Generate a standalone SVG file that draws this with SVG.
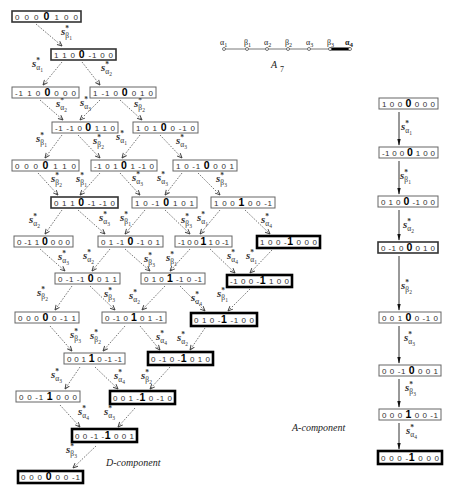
<svg xmlns="http://www.w3.org/2000/svg" width="454" height="492" viewBox="0 0 454 492">
<defs>
<style>
.n rect{fill:#fff;stroke:#666;stroke-width:1}
.m rect{fill:#fff;stroke:#333;stroke-width:1.6}
.b rect{fill:#fff;stroke:#000;stroke-width:2.6}
.t{font-family:"Liberation Sans",Arial,sans-serif;font-size:8px;fill:#333}
.k{font-weight:bold;font-size:10.5px;fill:#000}
.L{font-family:"Liberation Serif","Times New Roman",serif;font-style:italic;font-weight:bold;font-size:11px;fill:#333}
.u{font-size:7.5px;font-style:normal}
.d{font-size:7.5px;font-style:normal;font-weight:normal}
.e{font-size:5.5px;font-style:normal;font-weight:normal}
.dash{stroke:#666;stroke-width:0.9;stroke-dasharray:1.6 1.4;fill:none;marker-end:url(#ah)}
.sol{stroke:#333;stroke-width:1;fill:none;marker-end:url(#af)}
.cap{font-family:"Liberation Serif","Times New Roman",serif;font-style:italic;font-size:10px;fill:#222}
.g{font-family:"Liberation Serif","Times New Roman",serif;font-size:8px;fill:#222}
</style>
<marker id="ah" viewBox="0 0 10 10" refX="9" refY="5" markerWidth="6" markerHeight="6" orient="auto" markerUnits="userSpaceOnUse"><path d="M1,1.5 L9,5 L1,8.5" fill="none" stroke="#444" stroke-width="1.6"/></marker>
<marker id="af" viewBox="0 0 10 10" refX="9" refY="5" markerWidth="7" markerHeight="7" orient="auto" markerUnits="userSpaceOnUse"><path d="M0,2.5 L10,5 L0,7.5 z" fill="#111"/></marker>
</defs>
<rect width="454" height="492" fill="#fff"/>

<g id="connectors">
<line class="dash" x1="36" y1="24" x2="62" y2="46"/>
<line class="dash" x1="62" y1="62" x2="43" y2="85"/>
<line class="dash" x1="82" y1="62" x2="100" y2="85"/>
<line class="dash" x1="40" y1="100" x2="63" y2="120"/>
<line class="dash" x1="100" y1="100" x2="80" y2="120"/>
<line class="dash" x1="120" y1="100" x2="142" y2="120"/>
<line class="dash" x1="62" y1="135" x2="45" y2="158"/>
<line class="dash" x1="78" y1="135" x2="100" y2="158"/>
<line class="dash" x1="140" y1="135" x2="122" y2="158"/>
<line class="dash" x1="160" y1="135" x2="182" y2="158"/>
<line class="dash" x1="38" y1="173" x2="58" y2="195"/>
<line class="dash" x1="100" y1="173" x2="80" y2="195"/>
<line class="dash" x1="120" y1="173" x2="140" y2="195"/>
<line class="dash" x1="182" y1="173" x2="165" y2="195"/>
<line class="dash" x1="198" y1="173" x2="220" y2="195"/>
<line class="dash" x1="62" y1="210" x2="45" y2="234"/>
<line class="dash" x1="78" y1="210" x2="105" y2="234"/>
<line class="dash" x1="145" y1="210" x2="125" y2="234"/>
<line class="dash" x1="165" y1="210" x2="190" y2="234"/>
<line class="dash" x1="220" y1="210" x2="200" y2="234"/>
<line class="dash" x1="245" y1="210" x2="270" y2="234"/>
<line class="dash" x1="40" y1="249" x2="65" y2="271"/>
<line class="dash" x1="110" y1="249" x2="92" y2="271"/>
<line class="dash" x1="125" y1="249" x2="150" y2="271"/>
<line class="dash" x1="190" y1="249" x2="170" y2="271"/>
<line class="dash" x1="210" y1="249" x2="235" y2="273"/>
<line class="dash" x1="272" y1="250" x2="250" y2="273"/>
<line class="dash" x1="72" y1="286" x2="55" y2="310"/>
<line class="dash" x1="90" y1="286" x2="115" y2="310"/>
<line class="dash" x1="165" y1="286" x2="142" y2="310"/>
<line class="dash" x1="180" y1="286" x2="205" y2="311"/>
<line class="dash" x1="250" y1="289" x2="228" y2="311"/>
<line class="dash" x1="50" y1="326" x2="72" y2="351"/>
<line class="dash" x1="125" y1="326" x2="103" y2="351"/>
<line class="dash" x1="140" y1="326" x2="160" y2="350"/>
<line class="dash" x1="205" y1="328" x2="190" y2="350"/>
<line class="dash" x1="80" y1="367" x2="65" y2="389"/>
<line class="dash" x1="95" y1="367" x2="118" y2="389"/>
<line class="dash" x1="170" y1="367" x2="150" y2="389"/>
<line class="dash" x1="60" y1="405" x2="80" y2="427"/>
<line class="dash" x1="135" y1="408" x2="118" y2="427"/>
<line class="dash" x1="96" y1="446" x2="73" y2="468"/>
<line class="sol" x1="399" y1="112" x2="399" y2="145"/>
<line class="sol" x1="399" y1="161" x2="399" y2="194"/>
<line class="sol" x1="399" y1="210" x2="399" y2="240"/>
<line class="sol" x1="399" y1="256" x2="399" y2="310"/>
<line class="sol" x1="399" y1="326" x2="399" y2="363"/>
<line class="sol" x1="399" y1="379" x2="399" y2="407"/>
<line class="sol" x1="399" y1="423" x2="399" y2="449"/>
</g>

<g id="labels">
<text class="L" x="61" y="35">s<tspan class="u" dy="-4">*</tspan><tspan class="d" dx="-3.7" dy="7">β</tspan><tspan class="e" dy="1.5">1</tspan></text>
<text class="L" x="32" y="67">s<tspan class="u" dy="-4">*</tspan><tspan class="d" dx="-3.7" dy="7">α</tspan><tspan class="e" dy="1.5">1</tspan></text>
<text class="L" x="101" y="71">s<tspan class="u" dy="-4">*</tspan><tspan class="d" dx="-3.7" dy="7">α</tspan><tspan class="e" dy="1.5">2</tspan></text>
<text class="L" x="56" y="107">s<tspan class="u" dy="-4">*</tspan><tspan class="d" dx="-3.7" dy="7">α</tspan><tspan class="e" dy="1.5">2</tspan></text>
<text class="L" x="80" y="106">s<tspan class="u" dy="-4">*</tspan><tspan class="d" dx="-3.7" dy="7">α</tspan><tspan class="e" dy="1.5">3</tspan></text>
<text class="L" x="134" y="107">s<tspan class="u" dy="-4">*</tspan><tspan class="d" dx="-3.7" dy="7">β</tspan><tspan class="e" dy="1.5">2</tspan></text>
<text class="L" x="36" y="142">s<tspan class="u" dy="-4">*</tspan><tspan class="d" dx="-3.7" dy="7">β</tspan><tspan class="e" dy="1.5">1</tspan></text>
<text class="L" x="93" y="144">s<tspan class="u" dy="-4">*</tspan><tspan class="d" dx="-3.7" dy="7">β</tspan><tspan class="e" dy="1.5">2</tspan></text>
<text class="L" x="116" y="140">s<tspan class="u" dy="-4">*</tspan><tspan class="d" dx="-3.7" dy="7">α</tspan><tspan class="e" dy="1.5">1</tspan></text>
<text class="L" x="176" y="144">s<tspan class="u" dy="-4">*</tspan><tspan class="d" dx="-3.7" dy="7">α</tspan><tspan class="e" dy="1.5">3</tspan></text>
<text class="L" x="51" y="182">s<tspan class="u" dy="-4">*</tspan><tspan class="d" dx="-3.7" dy="7">β</tspan><tspan class="e" dy="1.5">2</tspan></text>
<text class="L" x="76" y="182">s<tspan class="u" dy="-4">*</tspan><tspan class="d" dx="-3.7" dy="7">β</tspan><tspan class="e" dy="1.5">1</tspan></text>
<text class="L" x="132" y="181">s<tspan class="u" dy="-4">*</tspan><tspan class="d" dx="-3.7" dy="7">α</tspan><tspan class="e" dy="1.5">3</tspan></text>
<text class="L" x="157" y="181">s<tspan class="u" dy="-4">*</tspan><tspan class="d" dx="-3.7" dy="7">α</tspan><tspan class="e" dy="1.5">3</tspan></text>
<text class="L" x="216" y="182">s<tspan class="u" dy="-4">*</tspan><tspan class="d" dx="-3.7" dy="7">β</tspan><tspan class="e" dy="1.5">3</tspan></text>
<text class="L" x="29" y="223">s<tspan class="u" dy="-4">*</tspan><tspan class="d" dx="-3.7" dy="7">α</tspan><tspan class="e" dy="1.5">2</tspan></text>
<text class="L" x="99" y="221">s<tspan class="u" dy="-4">*</tspan><tspan class="d" dx="-3.7" dy="7">α</tspan><tspan class="e" dy="1.5">3</tspan></text>
<text class="L" x="120" y="221">s<tspan class="u" dy="-4">*</tspan><tspan class="d" dx="-3.7" dy="7">β</tspan><tspan class="e" dy="1.5">1</tspan></text>
<text class="L" x="181" y="223">s<tspan class="u" dy="-4">*</tspan><tspan class="d" dx="-3.7" dy="7">β</tspan><tspan class="e" dy="1.5">3</tspan></text>
<text class="L" x="197" y="221">s<tspan class="u" dy="-4">*</tspan><tspan class="d" dx="-3.7" dy="7">α</tspan><tspan class="e" dy="1.5">1</tspan></text>
<text class="L" x="261" y="223">s<tspan class="u" dy="-4">*</tspan><tspan class="d" dx="-3.7" dy="7">α</tspan><tspan class="e" dy="1.5">4</tspan></text>
<text class="L" x="58" y="260">s<tspan class="u" dy="-4">*</tspan><tspan class="d" dx="-3.7" dy="7">α</tspan><tspan class="e" dy="1.5">3</tspan></text>
<text class="L" x="83" y="259">s<tspan class="u" dy="-4">*</tspan><tspan class="d" dx="-3.7" dy="7">α</tspan><tspan class="e" dy="1.5">2</tspan></text>
<text class="L" x="144" y="262">s<tspan class="u" dy="-4">*</tspan><tspan class="d" dx="-3.7" dy="7">β</tspan><tspan class="e" dy="1.5">3</tspan></text>
<text class="L" x="166" y="261">s<tspan class="u" dy="-4">*</tspan><tspan class="d" dx="-3.7" dy="7">β</tspan><tspan class="e" dy="1.5">1</tspan></text>
<text class="L" x="227" y="259">s<tspan class="u" dy="-4">*</tspan><tspan class="d" dx="-3.7" dy="7">α</tspan><tspan class="e" dy="1.5">4</tspan></text>
<text class="L" x="246" y="259">s<tspan class="u" dy="-4">*</tspan><tspan class="d" dx="-3.7" dy="7">α</tspan><tspan class="e" dy="1.5">1</tspan></text>
<text class="L" x="37" y="296">s<tspan class="u" dy="-4">*</tspan><tspan class="d" dx="-3.7" dy="7">β</tspan><tspan class="e" dy="1.5">2</tspan></text>
<text class="L" x="104" y="297">s<tspan class="u" dy="-4">*</tspan><tspan class="d" dx="-3.7" dy="7">β</tspan><tspan class="e" dy="1.5">3</tspan></text>
<text class="L" x="129" y="299">s<tspan class="u" dy="-4">*</tspan><tspan class="d" dx="-3.7" dy="7">α</tspan><tspan class="e" dy="1.5">2</tspan></text>
<text class="L" x="191" y="301">s<tspan class="u" dy="-4">*</tspan><tspan class="d" dx="-3.7" dy="7">α</tspan><tspan class="e" dy="1.5">4</tspan></text>
<text class="L" x="217" y="297">s<tspan class="u" dy="-4">*</tspan><tspan class="d" dx="-3.7" dy="7">β</tspan><tspan class="e" dy="1.5">1</tspan></text>
<text class="L" x="70" y="338">s<tspan class="u" dy="-4">*</tspan><tspan class="d" dx="-3.7" dy="7">β</tspan><tspan class="e" dy="1.5">3</tspan></text>
<text class="L" x="90" y="339">s<tspan class="u" dy="-4">*</tspan><tspan class="d" dx="-3.7" dy="7">β</tspan><tspan class="e" dy="1.5">2</tspan></text>
<text class="L" x="156" y="340">s<tspan class="u" dy="-4">*</tspan><tspan class="d" dx="-3.7" dy="7">α</tspan><tspan class="e" dy="1.5">4</tspan></text>
<text class="L" x="177" y="341">s<tspan class="u" dy="-4">*</tspan><tspan class="d" dx="-3.7" dy="7">α</tspan><tspan class="e" dy="1.5">2</tspan></text>
<text class="L" x="51" y="378">s<tspan class="u" dy="-4">*</tspan><tspan class="d" dx="-3.7" dy="7">α</tspan><tspan class="e" dy="1.5">3</tspan></text>
<text class="L" x="114" y="379">s<tspan class="u" dy="-4">*</tspan><tspan class="d" dx="-3.7" dy="7">α</tspan><tspan class="e" dy="1.5">4</tspan></text>
<text class="L" x="141" y="379">s<tspan class="u" dy="-4">*</tspan><tspan class="d" dx="-3.7" dy="7">β</tspan><tspan class="e" dy="1.5">2</tspan></text>
<text class="L" x="78" y="415">s<tspan class="u" dy="-4">*</tspan><tspan class="d" dx="-3.7" dy="7">α</tspan><tspan class="e" dy="1.5">4</tspan></text>
<text class="L" x="104" y="415">s<tspan class="u" dy="-4">*</tspan><tspan class="d" dx="-3.7" dy="7">α</tspan><tspan class="e" dy="1.5">3</tspan></text>
<text class="L" x="66" y="453">s<tspan class="u" dy="-4">*</tspan><tspan class="d" dx="-3.7" dy="7">β</tspan><tspan class="e" dy="1.5">3</tspan></text>
<text class="L" x="401" y="130">s<tspan class="u" dy="-4">*</tspan><tspan class="d" dx="-3.7" dy="7">α</tspan><tspan class="e" dy="1.5">1</tspan></text>
<text class="L" x="400" y="179">s<tspan class="u" dy="-4">*</tspan><tspan class="d" dx="-3.7" dy="7">β</tspan><tspan class="e" dy="1.5">1</tspan></text>
<text class="L" x="403" y="228">s<tspan class="u" dy="-4">*</tspan><tspan class="d" dx="-3.7" dy="7">α</tspan><tspan class="e" dy="1.5">2</tspan></text>
<text class="L" x="401" y="289">s<tspan class="u" dy="-4">*</tspan><tspan class="d" dx="-3.7" dy="7">β</tspan><tspan class="e" dy="1.5">2</tspan></text>
<text class="L" x="404" y="341">s<tspan class="u" dy="-4">*</tspan><tspan class="d" dx="-3.7" dy="7">α</tspan><tspan class="e" dy="1.5">3</tspan></text>
<text class="L" x="405" y="391">s<tspan class="u" dy="-4">*</tspan><tspan class="d" dx="-3.7" dy="7">β</tspan><tspan class="e" dy="1.5">3</tspan></text>
<text class="L" x="406" y="434">s<tspan class="u" dy="-4">*</tspan><tspan class="d" dx="-3.7" dy="7">α</tspan><tspan class="e" dy="1.5">4</tspan></text>
</g>

<g id="n0" class="m"><rect x="12" y="11" width="69" height="11"/><text class="t" x="15" y="19.5" textLength="63" lengthAdjust="spacing">0 0 0 <tspan class="k">0</tspan> 1 0 0</text></g>
<g id="n1" class="m"><rect x="51" y="49" width="65" height="11"/><text class="t" x="54" y="57.5" textLength="59" lengthAdjust="spacing">1 1 0 <tspan class="k">0</tspan> -1 0 0</text></g>
<g id="n2a" class="n"><rect x="12" y="87" width="67" height="11"/><text class="t" x="15" y="95.5" textLength="61" lengthAdjust="spacing">-1 1 0 <tspan class="k">0</tspan> 0 0 0</text></g>
<g id="n2b" class="n"><rect x="90" y="87" width="66" height="11"/><text class="t" x="93" y="95.5" textLength="60" lengthAdjust="spacing">1 -1 0 <tspan class="k">0</tspan> 0 1 0</text></g>
<g id="n3a" class="n"><rect x="52" y="122" width="66" height="11"/><text class="t" x="55" y="130.5" textLength="60" lengthAdjust="spacing">-1 -1 0 <tspan class="k">0</tspan> 1 1 0</text></g>
<g id="n3b" class="n"><rect x="133" y="122" width="65" height="11"/><text class="t" x="136" y="130.5" textLength="59" lengthAdjust="spacing">1 0 1 <tspan class="k">0</tspan> 0 -1 0</text></g>
<g id="n4a" class="n"><rect x="12" y="160" width="67" height="11"/><text class="t" x="15" y="168.5" textLength="61" lengthAdjust="spacing">0 0 0 <tspan class="k">0</tspan> 1 1 0</text></g>
<g id="n4b" class="n"><rect x="91" y="160" width="66" height="11"/><text class="t" x="94" y="168.5" textLength="60" lengthAdjust="spacing">-1 0 1 <tspan class="k">0</tspan> 1 -1 0</text></g>
<g id="n4c" class="n"><rect x="173" y="160" width="64" height="11"/><text class="t" x="176" y="168.5" textLength="58" lengthAdjust="spacing">1 0 -1 <tspan class="k">0</tspan> 0 0 1</text></g>
<g id="n5a" class="m"><rect x="51" y="197" width="67" height="11"/><text class="t" x="54" y="205.5" textLength="61" lengthAdjust="spacing">0 1 1 <tspan class="k">0</tspan> -1 -1 0</text></g>
<g id="n5b" class="n"><rect x="132" y="197" width="65" height="11"/><text class="t" x="135" y="205.5" textLength="59" lengthAdjust="spacing">1 0 -1 <tspan class="k">0</tspan> 1 0 1</text></g>
<g id="n5c" class="n"><rect x="211" y="197" width="64" height="11"/><text class="t" x="214" y="205.5" textLength="58" lengthAdjust="spacing">1 0 0 <tspan class="k">1</tspan> 0 0 -1</text></g>
<g id="n6a" class="n"><rect x="14" y="236" width="59" height="11"/><text class="t" x="17" y="244.5" textLength="53" lengthAdjust="spacing">0 -1 1 <tspan class="k">0</tspan> 0 0 0</text></g>
<g id="n6b" class="n"><rect x="98" y="236" width="65" height="11"/><text class="t" x="101" y="244.5" textLength="59" lengthAdjust="spacing">0 1 -1 <tspan class="k">0</tspan> -1 0 1</text></g>
<g id="n6c" class="n"><rect x="175" y="236" width="57" height="11"/><text class="t" x="178" y="244.5" textLength="51" lengthAdjust="spacing">-1 0 0 <tspan class="k">1</tspan> 1 0 -1</text></g>
<g id="n6d" class="b"><rect x="257" y="236" width="63" height="12"/><text class="t" x="260" y="245" textLength="57" lengthAdjust="spacing">1 0 0 -<tspan class="k">1</tspan> 0 0 0</text></g>
<g id="n7a" class="n"><rect x="55" y="273" width="65" height="11"/><text class="t" x="58" y="281.5" textLength="59" lengthAdjust="spacing">0 -1 -1 <tspan class="k">0</tspan> 0 1 1</text></g>
<g id="n7b" class="n"><rect x="141" y="273" width="64" height="11"/><text class="t" x="144" y="281.5" textLength="58" lengthAdjust="spacing">0 1 0 <tspan class="k">1</tspan> -1 0 -1</text></g>
<g id="n7c" class="b"><rect x="227" y="275" width="65" height="12"/><text class="t" x="230" y="284" textLength="59" lengthAdjust="spacing">-1 0 0 -<tspan class="k">1</tspan> 1 0 0</text></g>
<g id="n8a" class="n"><rect x="15" y="312" width="64" height="11"/><text class="t" x="18" y="320.5" textLength="58" lengthAdjust="spacing">0 0 0 <tspan class="k">0</tspan> 0 -1 1</text></g>
<g id="n8b" class="n"><rect x="102" y="312" width="64" height="11"/><text class="t" x="105" y="320.5" textLength="58" lengthAdjust="spacing">0 -1 0 <tspan class="k">1</tspan> 0 1 -1</text></g>
<g id="n8c" class="b"><rect x="191" y="313" width="66" height="13"/><text class="t" x="194" y="322.5" textLength="60" lengthAdjust="spacing">0 1 0 -<tspan class="k">1</tspan> -1 0 0</text></g>
<g id="n9a" class="n"><rect x="64" y="353" width="61" height="11"/><text class="t" x="67" y="361.5" textLength="55" lengthAdjust="spacing">0 0 1 <tspan class="k">1</tspan> 0 -1 -1</text></g>
<g id="n9b" class="b"><rect x="148" y="352" width="65" height="13"/><text class="t" x="151" y="361.5" textLength="59" lengthAdjust="spacing">0 -1 0 -<tspan class="k">1</tspan> 0 1 0</text></g>
<g id="n10a" class="n"><rect x="16" y="391" width="64" height="11"/><text class="t" x="19" y="399.5" textLength="58" lengthAdjust="spacing">0 0 -1 <tspan class="k">1</tspan> 0 0 0</text></g>
<g id="n10b" class="b"><rect x="110" y="391" width="65" height="13"/><text class="t" x="113" y="400.5" textLength="59" lengthAdjust="spacing">0 0 1 -<tspan class="k">1</tspan> 0 -1 0</text></g>
<g id="n11" class="b"><rect x="72" y="429" width="65" height="13"/><text class="t" x="75" y="438.5" textLength="59" lengthAdjust="spacing">0 0 -1 -<tspan class="k">1</tspan> 0 0 1</text></g>
<g id="n12" class="b"><rect x="18" y="471" width="65" height="12"/><text class="t" x="21" y="480" textLength="59" lengthAdjust="spacing">0 0 0 <tspan class="k">0</tspan> 0 0 -1</text></g>

<g id="r1" class="n"><rect x="379" y="98" width="59" height="11"/><text class="t" x="382" y="106.5" textLength="53" lengthAdjust="spacing">1 0 0 <tspan class="k">0</tspan> 0 0 0</text></g>
<g id="r2" class="n"><rect x="379" y="147" width="59" height="11"/><text class="t" x="382" y="155.5" textLength="53" lengthAdjust="spacing">-1 0 0 <tspan class="k">0</tspan> 1 0 0</text></g>
<g id="r3" class="n"><rect x="378" y="196" width="60" height="11"/><text class="t" x="381" y="204.5" textLength="54" lengthAdjust="spacing">0 1 0 <tspan class="k">0</tspan> -1 0 0</text></g>
<g id="r4" class="m"><rect x="378" y="242" width="60" height="11"/><text class="t" x="381" y="250.5" textLength="54" lengthAdjust="spacing">0 -1 0 <tspan class="k">0</tspan> 0 1 0</text></g>
<g id="r5" class="n"><rect x="379" y="312" width="62" height="11"/><text class="t" x="382" y="320.5" textLength="56" lengthAdjust="spacing">0 0 1 <tspan class="k">0</tspan> 0 -1 0</text></g>
<g id="r6" class="n"><rect x="379" y="365" width="62" height="11"/><text class="t" x="382" y="373.5" textLength="56" lengthAdjust="spacing">0 0 -1 <tspan class="k">0</tspan> 0 0 1</text></g>
<g id="r7" class="n"><rect x="379" y="409" width="62" height="11"/><text class="t" x="382" y="417.5" textLength="56" lengthAdjust="spacing">0 0 0 <tspan class="k">1</tspan> 0 0 -1</text></g>
<g id="r8" class="b"><rect x="378" y="451" width="64" height="13"/><text class="t" x="381" y="460.5" textLength="58" lengthAdjust="spacing">0 0 0 -<tspan class="k">1</tspan> 0 0 0</text></g>

<g id="dynkin">
<line x1="224" y1="49" x2="330" y2="49" stroke="#555" stroke-width="0.8"/>
<line x1="330" y1="49" x2="350" y2="49" stroke="#000" stroke-width="3"/>
<g fill="#fff" stroke="#444" stroke-width="0.7">
<circle cx="224" cy="49" r="1.5"/><circle cx="247" cy="49" r="1.5"/><circle cx="267" cy="49" r="1.5"/><circle cx="288" cy="49" r="1.5"/><circle cx="309" cy="49" r="1.5"/><circle cx="330" cy="49" r="1.5"/><circle cx="350" cy="49" r="1.5"/>
</g>
<text class="g" x="220" y="45">α<tspan font-size="6" dy="1.5">1</tspan></text>
<text class="g" x="244" y="45">β<tspan font-size="6" dy="1.5">1</tspan></text>
<text class="g" x="264" y="45">α<tspan font-size="6" dy="1.5">2</tspan></text>
<text class="g" x="285" y="45">β<tspan font-size="6" dy="1.5">2</tspan></text>
<text class="g" x="306" y="45">α<tspan font-size="6" dy="1.5">3</tspan></text>
<text class="g" x="327" y="45">β<tspan font-size="6" dy="1.5">3</tspan></text>
<text class="g" x="345" y="45" font-weight="bold" font-size="10">α<tspan font-size="7" dy="1.5">4</tspan></text>
<text class="cap" x="271" y="68" font-size="12">A<tspan font-size="8" font-style="normal" dx="3" dy="4">7</tspan></text>
</g>

<text class="cap" x="292" y="431">A-component</text>
<text class="cap" x="106" y="466">D-component</text>
</svg>
